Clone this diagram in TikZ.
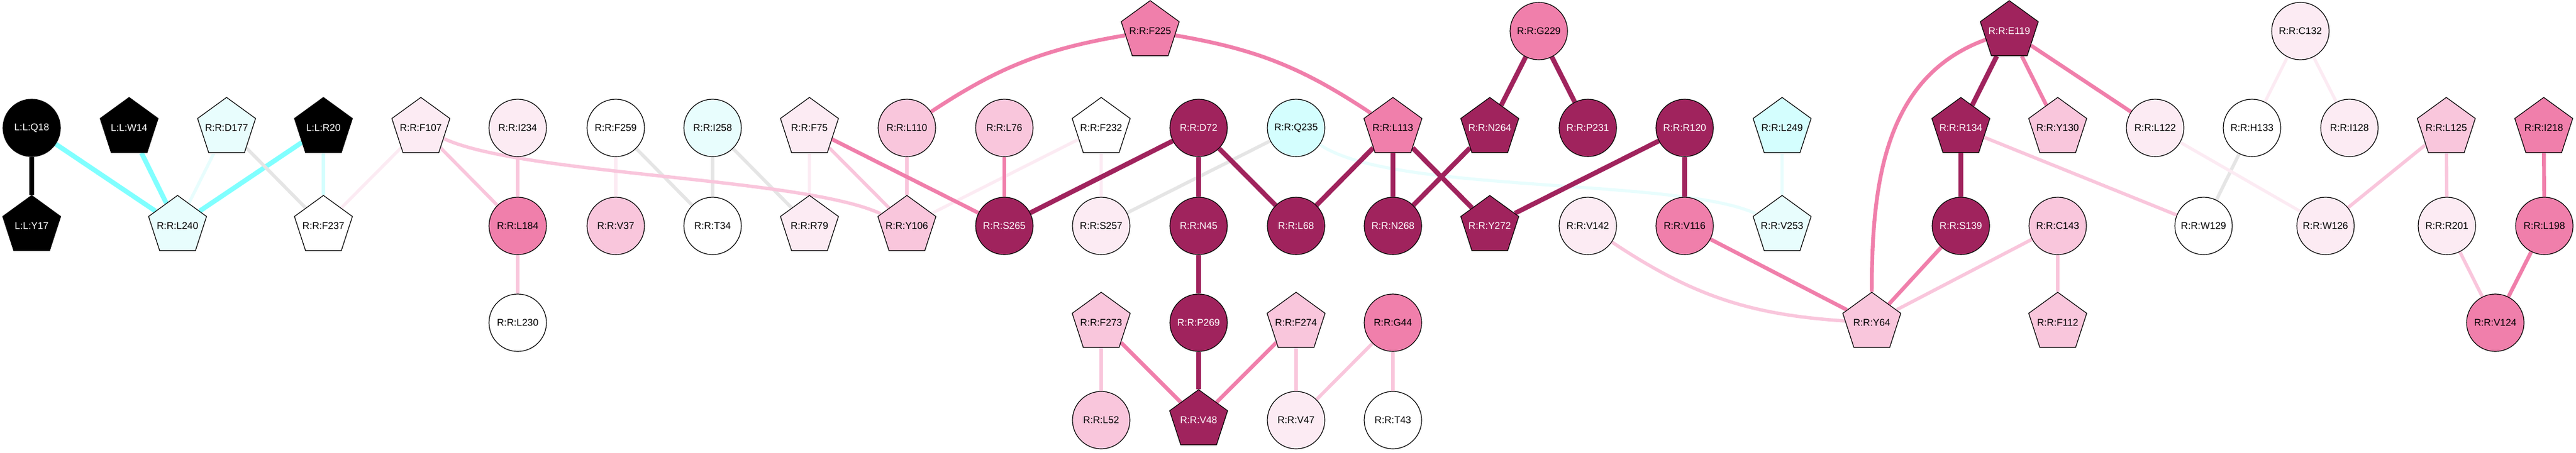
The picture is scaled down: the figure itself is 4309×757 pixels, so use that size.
\documentclass[tikz,border=0pt]{standalone}
\usepackage{fontspec}
\setmainfont{Liberation Sans}
\usetikzlibrary{shapes.geometric, backgrounds}

\definecolor{aquaS}{HTML}{80FFFF}
\definecolor{aquaL}{HTML}{D4FEFE}
\definecolor{aquaV}{HTML}{E8FDFD}
\definecolor{greyE}{HTML}{E5E5E5}
\definecolor{pinkV}{HTML}{FCEBF3}
\definecolor{pinkL}{HTML}{F9C6DC}
\definecolor{pinkM}{HTML}{F07FAB}
\definecolor{plum}{HTML}{A0235D}

\tikzset{
    res/.style={draw=black, line width=0.6pt, inner sep=0pt, text=black,
        font=\fontsize{8.2}{9}\selectfont},
    ball/.style={res, circle, minimum size=48pt},
    penta/.style={res, regular polygon, regular polygon sides=5,
        minimum size=51pt, inner sep=-8pt},
    ink/.style={fill=black, text=white},
    dark/.style={fill=plum, text=white},
    lk/.style={-, line cap=butt},
    lkBlack/.style={lk, draw=black, line width=4pt},
    lkAqua/.style={lk, draw=aquaS, line width=4pt},
    lkAquaPale/.style={lk, draw=aquaL, line width=2.8pt},
    lkAquaFaint/.style={lk, draw=aquaV, line width=2.6pt},
    lkGrey/.style={lk, draw=greyE, line width=2.8pt},
    lkRoseFaint/.style={lk, draw=pinkV, line width=2.6pt},
    lkRose/.style={lk, draw=pinkL, line width=2.8pt},
    lkPink/.style={lk, draw=pinkM, line width=3.2pt},
    lkPlum/.style={lk, draw=plum, line width=4pt},
}

\begin{document}
\begin{tikzpicture}[x=0.5pt, y=-0.5pt]
    \useasboundingbox (0,0) rectangle (4309,757);

    % top rank
    \node[penta, fill=pinkM] (F225) at (1924,52) {R:R:F225};
    \node[ball,  fill=pinkM] (G229) at (2574,52) {R:R:G229};
    \node[penta, dark      ] (E119) at (3361,52) {R:R:E119};
    \node[ball,  fill=pinkV] (C132) at (3848,52) {R:R:C132};

    % second rank
    \node[ball,  ink       ] (LQ18) at (53,214)   {L:L:Q18};
    \node[penta, ink       ] (LW14) at (216,214)  {L:L:W14};
    \node[penta, fill=aquaV] (D177) at (379,214)  {R:R:D177};
    \node[penta, ink       ] (LR20) at (541,214)  {L:L:R20};
    \node[penta, fill=pinkV] (F107) at (704,214)  {R:R:F107};
    \node[ball,  fill=pinkV] (I234) at (866,214)  {R:R:I234};
    \node[ball,  fill=white] (F259) at (1030,214) {R:R:F259};
    \node[ball,  fill=aquaV] (I258) at (1192,214) {R:R:I258};
    \node[penta, fill=pinkV] (F75)  at (1354,214) {R:R:F75};
    \node[ball,  fill=pinkL] (L110) at (1517,214) {R:R:L110};
    \node[ball,  fill=pinkL] (L76)  at (1680,214) {R:R:L76};
    \node[penta, fill=white] (F232) at (1842,214) {R:R:F232};
    \node[ball,  dark      ] (D72)  at (2005,214) {R:R:D72};
    \node[ball,  fill=aquaL] (Q235) at (2168,214) {R:R:Q235};
    \node[penta, fill=pinkM] (L113) at (2330,214) {R:R:L113};
    \node[penta, dark      ] (N264) at (2492,214) {R:R:N264};
    \node[ball,  dark      ] (P231) at (2656,214) {R:R:P231};
    \node[ball,  dark      ] (R120) at (2818,214) {R:R:R120};
    \node[penta, fill=aquaL] (L249) at (2981,214) {R:R:L249};
    \node[penta, dark      ] (R134) at (3280,214) {R:R:R134};
    \node[penta, fill=pinkL] (Y130) at (3442,214) {R:R:Y130};
    \node[ball,  fill=pinkV] (L122) at (3605,214) {R:R:L122};
    \node[ball,  fill=white] (H133) at (3767,214) {R:R:H133};
    \node[ball,  fill=pinkV] (I128) at (3930,214) {R:R:I128};
    \node[penta, fill=pinkL] (L125) at (4092,214) {R:R:L125};
    \node[penta, fill=pinkM] (I218) at (4255,214) {R:R:I218};

    % third rank
    \node[penta, ink       ] (LY17) at (53,378)   {L:L:Y17};
    \node[penta, fill=aquaV] (L240) at (297,378)  {R:R:L240};
    \node[penta, fill=white] (F237) at (541,378)  {R:R:F237};
    \node[ball,  fill=pinkM] (L184) at (866,378)  {R:R:L184};
    \node[ball,  fill=pinkL] (V37)  at (1030,378) {R:R:V37};
    \node[ball,  fill=white] (T34)  at (1192,378) {R:R:T34};
    \node[penta, fill=pinkV] (R79)  at (1354,378) {R:R:R79};
    \node[penta, fill=pinkL] (Y106) at (1517,378) {R:R:Y106};
    \node[ball,  dark      ] (S265) at (1680,378) {R:R:S265};
    \node[ball,  fill=pinkV] (S257) at (1842,378) {R:R:S257};
    \node[ball,  dark      ] (N45)  at (2005,378) {R:R:N45};
    \node[ball,  dark      ] (L68)  at (2168,378) {R:R:L68};
    \node[ball,  dark      ] (N268) at (2330,378) {R:R:N268};
    \node[penta, dark      ] (Y272) at (2492,378) {R:R:Y272};
    \node[ball,  fill=pinkV] (V142) at (2656,378) {R:R:V142};
    \node[ball,  fill=pinkM] (V116) at (2818,378) {R:R:V116};
    \node[penta, fill=aquaV] (V253) at (2981,378) {R:R:V253};
    \node[ball,  dark      ] (S139) at (3280,378) {R:R:S139};
    \node[ball,  fill=pinkL] (C143) at (3442,378) {R:R:C143};
    \node[ball,  fill=white] (W129) at (3686,378) {R:R:W129};
    \node[ball,  fill=pinkV] (W126) at (3890,378) {R:R:W126};
    \node[ball,  fill=pinkV] (R201) at (4093,378) {R:R:R201};
    \node[ball,  fill=pinkM] (L198) at (4256,378) {R:R:L198};

    % fourth rank
    \node[ball,  fill=white] (L230) at (866,540)  {R:R:L230};
    \node[penta, fill=pinkL] (F273) at (1842,540) {R:R:F273};
    \node[ball,  dark      ] (P269) at (2005,540) {R:R:P269};
    \node[penta, fill=pinkL] (F274) at (2168,540) {R:R:F274};
    \node[ball,  fill=pinkM] (G44)  at (2330,540) {R:R:G44};
    \node[penta, fill=pinkL] (Y64)  at (3131,540) {R:R:Y64};
    \node[penta, fill=pinkL] (F112) at (3442,540) {R:R:F112};
    \node[ball,  fill=pinkM] (V124) at (4174,540) {R:R:V124};

    % bottom rank
    \node[ball,  fill=pinkL] (L52)  at (1842,703) {R:R:L52};
    \node[penta, dark      ] (V48)  at (2005,703) {R:R:V48};
    \node[ball,  fill=pinkV] (V47)  at (2168,703) {R:R:V47};
    \node[ball,  fill=white] (T43)  at (2330,703) {R:R:T43};

    \begin{pgfonlayer}{background}
    \path
        (LQ18) edge [lkBlack]     (LY17)
        (LQ18) edge [lkAqua]      (L240)
        (LW14) edge [lkAqua]      (L240)
        (LR20) edge [lkAqua]      (L240)
        (LR20) edge [lkAquaPale]  (F237)
        (D177) edge [lkAquaFaint] (L240)
        (L249) edge [lkAquaFaint] (V253)
        (Q235) edge [lkAquaFaint, out=-35, in=155, looseness=0.5] (V253)
        (D177) edge [lkGrey]      (F237)
        (F259) edge [lkGrey]      (T34)
        (I258) edge [lkGrey]      (T34)
        (I258) edge [lkGrey]      (R79)
        (Q235) edge [lkGrey]      (S257)
        (H133) edge [lkGrey]      (W129)
        (F107) edge [lkRoseFaint] (F237)
        (F259) edge [lkRoseFaint] (V37)
        (F75)  edge [lkRoseFaint] (R79)
        (F232) edge [lkRoseFaint] (Y106)
        (F232) edge [lkRoseFaint] (S257)
        (C132) edge [lkRoseFaint] (H133)
        (C132) edge [lkRoseFaint] (I128)
        (L122) edge [lkRoseFaint] (W126)
        (F107) edge [lkRose]      (L184)
        (F107) edge [lkRose, out=-25, in=155, looseness=0.5] (Y106)
        (I234) edge [lkRose]      (L184)
        (L184) edge [lkRose]      (L230)
        (F75)  edge [lkRose]      (Y106)
        (L110) edge [lkRose]      (Y106)
        (V142) edge [lkRose, bend right=15] (Y64)
        (C143) edge [lkRose]      (Y64)
        (C143) edge [lkRose]      (F112)
        (R134) edge [lkRose]      (W129)
        (L125) edge [lkRose]      (W126)
        (L125) edge [lkRose]      (R201)
        (R201) edge [lkRose]      (V124)
        (F273) edge [lkRose]      (L52)
        (F274) edge [lkRose]      (V47)
        (G44)  edge [lkRose]      (V47)
        (G44)  edge [lkRose]      (T43)
        (L110) edge [lkPink, bend left=12] (F225)
        (F225) edge [lkPink, bend left=12] (L113)
        (F75)  edge [lkPink]      (S265)
        (L76)  edge [lkPink]      (S265)
        (V116) edge [lkPink]      (Y64)
        (E119) edge [lkPink]      (Y130)
        (E119) edge [lkPink]      (L122)
        (E119) edge [lkPink, out=200, in=90] (Y64)
        (S139) edge [lkPink]      (Y64)
        (I218) edge [lkPink]      (L198)
        (L198) edge [lkPink]      (V124)
        (F273) edge [lkPink]      (V48)
        (F274) edge [lkPink]      (V48)
        (D72)  edge [lkPlum]      (S265)
        (D72)  edge [lkPlum]      (N45)
        (D72)  edge [lkPlum]      (L68)
        (L113) edge [lkPlum]      (L68)
        (L113) edge [lkPlum]      (N268)
        (L113) edge [lkPlum]      (Y272)
        (N264) edge [lkPlum]      (N268)
        (G229) edge [lkPlum]      (N264)
        (G229) edge [lkPlum]      (P231)
        (R120) edge [lkPlum]      (Y272)
        (R120) edge [lkPlum]      (V116)
        (N45)  edge [lkPlum]      (P269)
        (P269) edge [lkPlum]      (V48)
        (E119) edge [lkPlum]      (R134)
        (R134) edge [lkPlum]      (S139)
    ;
    \end{pgfonlayer}
\end{tikzpicture}
\end{document}
